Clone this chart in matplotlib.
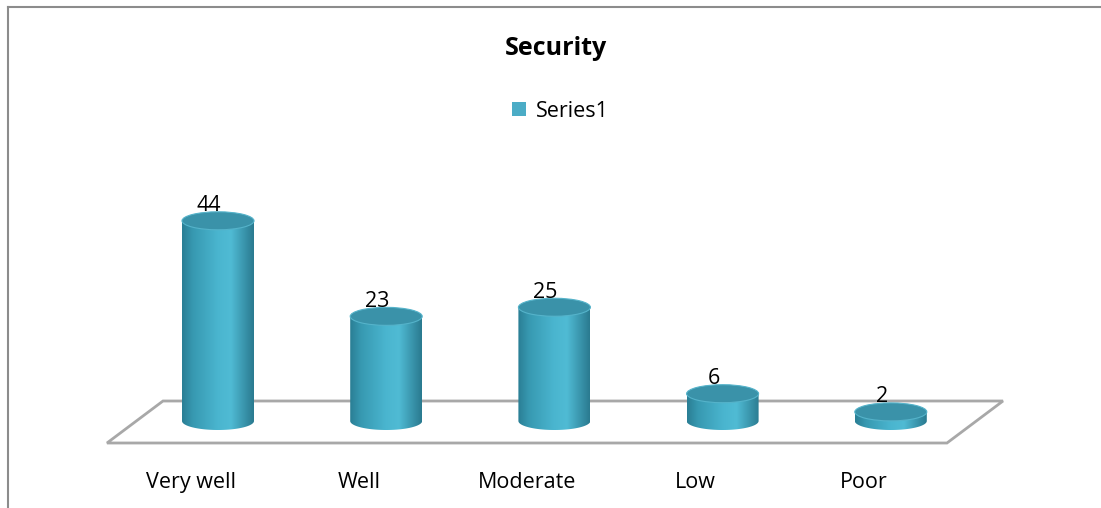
import numpy as np
import matplotlib
matplotlib.use('Agg')
import matplotlib.pyplot as plt
from matplotlib.patches import Ellipse, Polygon, PathPatch, Rectangle
from matplotlib.path import Path
from matplotlib.colors import LinearSegmentedColormap
from matplotlib.lines import Line2D

categories = ['Very well', 'Well', 'Moderate', 'Low', 'Poor']
values = [44, 23, 25, 6, 2]
series_name = 'Series1'
title = 'Security'

plt.rcParams['font.family'] = ['Open Sans', 'DejaVu Sans']

W, H = 1101, 508
fig = plt.figure(figsize=(W / 100, H / 100), dpi=100)
ax = fig.add_axes([0, 0, 1, 1])
px_x = 168.2   # pixels per category step
px_y = 4.55    # pixels per value unit
x0_px = 218
y0_px = 421
ax.set_xlim(-x0_px / px_x, (W - x0_px) / px_x)
ax.set_ylim(-(H - y0_px) / px_y, y0_px / px_y)
ax.axis('off')

bw = 72 / px_x
eh = 18 / px_y

# floor parallelogram
n = len(categories)
back_y = (y0_px - 401) / px_y
front_y = (y0_px - 443) / px_y
floor = Polygon([(-0.327, back_y), (n - 1 + 0.667, back_y),
                 (n - 1 + 0.334, front_y), (-0.66, front_y)],
                closed=True, facecolor='white', edgecolor='#a8a8a8', lw=2.0, zorder=1)
ax.add_patch(floor)

cmap = LinearSegmentedColormap.from_list('cyl', [
    (0.0, '#2a7e94'), (0.15, '#3799b1'), (0.5, '#4ab5cf'), (0.68, '#50bbd4'),
    (0.88, '#3892a9'), (1.0, '#2a7a8f')])
grad = np.linspace(0, 1, 256).reshape(1, -1)

label_shift = -27 / px_x
for i, v in enumerate(values):
    x = i
    t = np.linspace(np.pi, 2 * np.pi, 60)
    arc = np.column_stack([x + bw / 2 * np.cos(t), eh / 2 * np.sin(t)])
    verts = [(x - bw / 2, v)] + [tuple(p) for p in arc] + [(x + bw / 2, v), (x - bw / 2, v)]
    codes = [Path.MOVETO] + [Path.LINETO] * (len(verts) - 2) + [Path.CLOSEPOLY]
    body = PathPatch(Path(verts, codes), facecolor='none', edgecolor='none', zorder=3)
    ax.add_patch(body)
    im = ax.imshow(grad, cmap=cmap, extent=[x - bw / 2, x + bw / 2, -eh / 2, v],
                   aspect='auto', zorder=3, interpolation='bilinear')
    im.set_clip_path(body)
    top = Ellipse((x, v), bw, eh, facecolor='#3a92a9', edgecolor='#55b3ca', lw=0.8, zorder=4)
    ax.add_patch(top)
    ax.text(x - 9 / px_x, v + eh / 2 + 0.5 / px_y, str(v), ha='center', va='baseline',
            fontsize=15.5, color='black', zorder=5)
    ax.text(x + label_shift, (y0_px - 488) / px_y, categories[i], ha='center',
            va='baseline', fontsize=15.5, color='black')

ax.set_xlim(-x0_px / px_x, (W - x0_px) / px_x)
ax.set_ylim(-(H - y0_px) / px_y, y0_px / px_y)

# title and legend
fig.text(556 / W, 1 - 55 / H, title, ha='center', va='baseline', fontsize=18,
         fontweight='bold')
fig.patches.append(Rectangle((512 / W, 1 - 116 / H), 14 / W, 14 / H,
                             transform=fig.transFigure, facecolor='#4bacc6',
                             edgecolor='none'))
fig.text(536 / W, 1 - 117 / H, series_name, ha='left', va='baseline', fontsize=15.5)

# chart border
fig.add_artist(Line2D([8 / W, 8 / W], [0, 1 - 7 / H], transform=fig.transFigure,
                      color='#8c8c8c', lw=1.5))
fig.add_artist(Line2D([8 / W, 1], [1 - 7 / H, 1 - 7 / H], transform=fig.transFigure,
                      color='#8c8c8c', lw=1.5))

fig.savefig('out.png', dpi=100)
